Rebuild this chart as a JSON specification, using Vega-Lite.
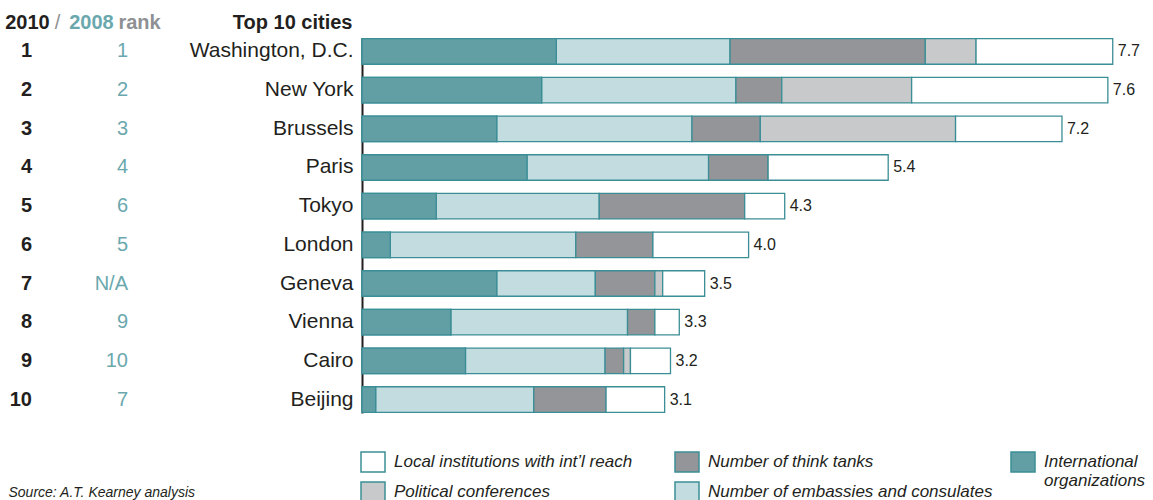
{
  "$schema": "https://vega.github.io/schema/vega-lite/v6.json",
  "background": "white",
  "padding": {"left": 0, "top": 12, "right": 0, "bottom": 0},
  "autosize": {"type": "pad"},
  "bounds": "flush",
  "spacing": 202,
  "config": {
    "view": {"stroke": null},
    "font": "Liberation Sans",
    "axis": {"grid": false}
  },
  "datasets": {
    "seg": [
      {"c": "Washington, D.C.", "s": "International organizations", "k": 1, "v": 1.99},
      {"c": "Washington, D.C.", "s": "Number of embassies and consulates", "k": 2, "v": 1.78},
      {"c": "Washington, D.C.", "s": "Number of think tanks", "k": 3, "v": 2.0},
      {"c": "Washington, D.C.", "s": "Political conferences", "k": 4, "v": 0.52},
      {"c": "Washington, D.C.", "s": "Local institutions with int’l reach", "k": 5, "v": 1.4},
      {"c": "New York", "s": "International organizations", "k": 1, "v": 1.84},
      {"c": "New York", "s": "Number of embassies and consulates", "k": 2, "v": 1.99},
      {"c": "New York", "s": "Number of think tanks", "k": 3, "v": 0.47},
      {"c": "New York", "s": "Political conferences", "k": 4, "v": 1.33},
      {"c": "New York", "s": "Local institutions with int’l reach", "k": 5, "v": 2.01},
      {"c": "Brussels", "s": "International organizations", "k": 1, "v": 1.38},
      {"c": "Brussels", "s": "Number of embassies and consulates", "k": 2, "v": 2.0},
      {"c": "Brussels", "s": "Number of think tanks", "k": 3, "v": 0.7},
      {"c": "Brussels", "s": "Political conferences", "k": 4, "v": 2.0},
      {"c": "Brussels", "s": "Local institutions with int’l reach", "k": 5, "v": 1.09},
      {"c": "Paris", "s": "International organizations", "k": 1, "v": 1.69},
      {"c": "Paris", "s": "Number of embassies and consulates", "k": 2, "v": 1.86},
      {"c": "Paris", "s": "Number of think tanks", "k": 3, "v": 0.61},
      {"c": "Paris", "s": "Local institutions with int’l reach", "k": 5, "v": 1.23},
      {"c": "Tokyo", "s": "International organizations", "k": 1, "v": 0.76},
      {"c": "Tokyo", "s": "Number of embassies and consulates", "k": 2, "v": 1.67},
      {"c": "Tokyo", "s": "Number of think tanks", "k": 3, "v": 1.49},
      {"c": "Tokyo", "s": "Local institutions with int’l reach", "k": 5, "v": 0.41},
      {"c": "London", "s": "International organizations", "k": 1, "v": 0.29},
      {"c": "London", "s": "Number of embassies and consulates", "k": 2, "v": 1.9},
      {"c": "London", "s": "Number of think tanks", "k": 3, "v": 0.79},
      {"c": "London", "s": "Local institutions with int’l reach", "k": 5, "v": 0.98},
      {"c": "Geneva", "s": "International organizations", "k": 1, "v": 1.38},
      {"c": "Geneva", "s": "Number of embassies and consulates", "k": 2, "v": 1.01},
      {"c": "Geneva", "s": "Number of think tanks", "k": 3, "v": 0.61},
      {"c": "Geneva", "s": "Political conferences", "k": 4, "v": 0.08},
      {"c": "Geneva", "s": "Local institutions with int’l reach", "k": 5, "v": 0.43},
      {"c": "Vienna", "s": "International organizations", "k": 1, "v": 0.91},
      {"c": "Vienna", "s": "Number of embassies and consulates", "k": 2, "v": 1.81},
      {"c": "Vienna", "s": "Number of think tanks", "k": 3, "v": 0.28},
      {"c": "Vienna", "s": "Local institutions with int’l reach", "k": 5, "v": 0.25},
      {"c": "Cairo", "s": "International organizations", "k": 1, "v": 1.06},
      {"c": "Cairo", "s": "Number of embassies and consulates", "k": 2, "v": 1.43},
      {"c": "Cairo", "s": "Number of think tanks", "k": 3, "v": 0.19},
      {"c": "Cairo", "s": "Political conferences", "k": 4, "v": 0.07},
      {"c": "Cairo", "s": "Local institutions with int’l reach", "k": 5, "v": 0.41},
      {"c": "Beijing", "s": "International organizations", "k": 1, "v": 0.14},
      {"c": "Beijing", "s": "Number of embassies and consulates", "k": 2, "v": 1.62},
      {"c": "Beijing", "s": "Number of think tanks", "k": 3, "v": 0.74},
      {"c": "Beijing", "s": "Local institutions with int’l reach", "k": 5, "v": 0.6}
    ],
    "tot": [
      {"c": "Washington, D.C.", "total": 7.7},
      {"c": "New York", "total": 7.6},
      {"c": "Brussels", "total": 7.2},
      {"c": "Paris", "total": 5.4},
      {"c": "Tokyo", "total": 4.3},
      {"c": "London", "total": 4.0},
      {"c": "Geneva", "total": 3.5},
      {"c": "Vienna", "total": 3.3},
      {"c": "Cairo", "total": 3.2},
      {"c": "Beijing", "total": 3.1}
    ],
    "rank": [
      {"c": "Washington, D.C.", "col": "2010", "r": "1"},
      {"c": "New York", "col": "2010", "r": "2"},
      {"c": "Brussels", "col": "2010", "r": "3"},
      {"c": "Paris", "col": "2010", "r": "4"},
      {"c": "Tokyo", "col": "2010", "r": "5"},
      {"c": "London", "col": "2010", "r": "6"},
      {"c": "Geneva", "col": "2010", "r": "7"},
      {"c": "Vienna", "col": "2010", "r": "8"},
      {"c": "Cairo", "col": "2010", "r": "9"},
      {"c": "Beijing", "col": "2010", "r": "10"},
      {"c": "Washington, D.C.", "col": "2008", "r": "1"},
      {"c": "New York", "col": "2008", "r": "2"},
      {"c": "Brussels", "col": "2008", "r": "3"},
      {"c": "Paris", "col": "2008", "r": "4"},
      {"c": "Tokyo", "col": "2008", "r": "6"},
      {"c": "London", "col": "2008", "r": "5"},
      {"c": "Geneva", "col": "2008", "r": "N/A"},
      {"c": "Vienna", "col": "2008", "r": "9"},
      {"c": "Cairo", "col": "2008", "r": "10"},
      {"c": "Beijing", "col": "2008", "r": "7"}
    ]
  },
  "resolve": {"scale": {"x": "independent", "y": "independent"}},
  "hconcat": [
    {
      "width": 160,
      "height": 375,
      "data": {"name": "rank"},
      "encoding": {
        "y": {
          "field": "c",
          "type": "nominal",
          "scale": {
            "type": "band",
            "domain": ["Washington, D.C.", "New York", "Brussels", "Paris", "Tokyo", "London", "Geneva", "Vienna", "Cairo", "Beijing"],
            "paddingInner": 0.34,
            "paddingOuter": 0.0186
          },
          "axis": {
            "title": "Source: A.T. Kearney analysis",
            "labels": false,
            "ticks": false,
            "domain": false,
            "titleAngle": 0,
            "titleAlign": "left",
            "titleBaseline": "alphabetic",
            "titleX": 8,
            "titleY": 458,
            "titleFontSize": 14,
            "titleFontStyle": "italic",
            "titleFontWeight": "normal",
            "titleColor": "#231f20"
          }
        },
        "x": {
          "field": "col",
          "type": "nominal",
          "scale": {"type": "point", "domain": ["2010", "/", "rank", "2008"], "padding": 1.1087},
          "axis": {
            "orient": "top",
            "title": null,
            "domain": false,
            "ticks": false,
            "tickSize": 0,
            "labelAngle": 0,
            "labelPadding": 10,
            "labelBaseline": "alphabetic",
            "labelFontSize": 20,
            "labelOverlap": false,
            "labelFlush": false,
            "labelFontWeight": {"condition": {"test": "datum.value === '/'", "value": "normal"}, "value": "bold"},
            "labelColor": {"condition": [{"test": "datum.value === '2010'", "value": "#231f20"}, {"test": "datum.value === '2008'", "value": "#6aa8ae"}], "value": "#8e9093"},
            "labelOffset": {"condition": [{"test": "datum.value === '2010'", "value": -5}, {"test": "datum.value === '/'", "value": -7}, {"test": "datum.value === 'rank'", "value": 43}], "value": -37}
          }
        },
        "text": {"field": "r", "type": "nominal"}
      },
      "layer": [
        {
          "transform": [{"filter": "datum.col === '2010'"}],
          "mark": {"type": "text", "align": "right", "baseline": "middle", "fontSize": 20, "fontWeight": "bold", "color": "#231f20"}
        },
        {
          "transform": [{"filter": "datum.col === '2008'"}],
          "mark": {"type": "text", "align": "right", "baseline": "middle", "fontSize": 20, "color": "#6aa8ae"}
        }
      ]
    },
    {
      "width": 781,
      "height": 375,
      "encoding": {
        "y": {
          "field": "c",
          "type": "nominal",
          "scale": {
            "type": "band",
            "domain": ["Washington, D.C.", "New York", "Brussels", "Paris", "Tokyo", "London", "Geneva", "Vienna", "Cairo", "Beijing"],
            "paddingInner": 0.34,
            "paddingOuter": 0.0186
          },
          "axis": {
            "title": "Top 10 cities",
            "titleAngle": 0,
            "titleAlign": "right",
            "titleBaseline": "alphabetic",
            "titleX": -10,
            "titleY": -10,
            "titleFontSize": 20,
            "titleFontWeight": "bold",
            "titleColor": "#231f20",
            "labelFontSize": 21,
            "labelColor": "#231f20",
            "labelPadding": 9,
            "ticks": false,
            "tickSize": 0,
            "domain": true,
            "domainColor": "#231f20",
            "domainWidth": 2,
            "labelLimit": 300
          }
        }
      },
      "layer": [
        {
          "data": {"name": "seg"},
          "mark": {"type": "bar", "stroke": "#3b8e95", "strokeWidth": 1.3},
          "encoding": {
            "x": {"field": "v", "type": "quantitative", "stack": "zero", "scale": {"domain": [0, 8], "nice": false, "zero": true}, "axis": null},
            "color": {
              "field": "s",
              "type": "nominal",
              "scale": {
                "domain": ["Local institutions with int’l reach", "Number of think tanks", "Political conferences", "Number of embassies and consulates", "International organizations"],
                "range": ["#ffffff", "#949598", "#c8c9cb", "#c3dce0", "#619fa5"]
              },
              "legend": {
                "values": ["Local institutions with int’l reach", "Number of think tanks", "Political conferences", "Number of embassies and consulates"],
                "orient": "none",
                "legendX": 362,
                "legendY": 413,
                "columns": 2,
                "direction": "horizontal",
                "title": null,
                "padding": 0,
                "symbolType": "M-1.2,-1H1.2V1H-1.2Z",
                "symbolSize": 400,
                "symbolStrokeColor": "#3b8e95",
                "symbolStrokeWidth": 1.5,
                "symbolOpacity": 1,
                "labelFontSize": 17,
                "labelFontStyle": "italic",
                "labelColor": "#231f20",
                "labelOffset": 10,
                "labelLimit": 400,
                "columnPadding": 39,
                "rowPadding": 4
              }
            },
            "order": {"field": "k", "type": "quantitative"}
          }
        },
        {
          "data": {"name": "seg"},
          "transform": [{"filter": "datum.k === 1"}],
          "mark": {"type": "bar", "stroke": "#3b8e95", "strokeWidth": 1.3},
          "encoding": {
            "x": {"field": "v", "type": "quantitative"},
            "fill": {
              "field": "s",
              "type": "nominal",
              "scale": {"domain": ["International organizations"], "range": ["#619fa5"]},
              "legend": {
                "orient": "none",
                "legendX": 1012,
                "legendY": 413,
                "title": null,
                "padding": 0,
                "symbolType": "M-1.2,-1H1.2V1H-1.2Z",
                "symbolSize": 400,
                "symbolStrokeColor": "#3b8e95",
                "symbolStrokeWidth": 1.5,
                "symbolOpacity": 1,
                "labelFontSize": 17,
                "labelFontStyle": "italic",
                "labelColor": "#231f20",
                "labelOffset": 10,
                "labelLimit": 400,
                "labelExpr": "['International', 'organizations']"
              }
            }
          }
        },
        {
          "data": {"name": "seg"},
          "transform": [
            {"aggregate": [{"op": "sum", "field": "v", "as": "end"}], "groupby": ["c"]},
            {"lookup": "c", "from": {"data": {"name": "tot"}, "key": "c", "fields": ["total"]}}
          ],
          "mark": {"type": "text", "align": "left", "baseline": "middle", "dx": 5, "fontSize": 16, "color": "#231f20"},
          "encoding": {
            "x": {"field": "end", "type": "quantitative"},
            "text": {"field": "total", "type": "quantitative", "format": ".1f"}
          }
        }
      ]
    }
  ]
}
